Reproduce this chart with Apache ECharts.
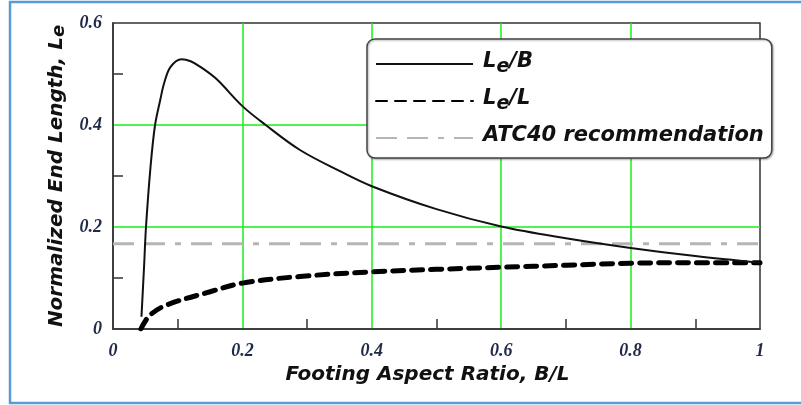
<!DOCTYPE html>
<html>
<head>
<meta charset="utf-8">
<script src="https://cdn.jsdelivr.net/npm/echarts@6/dist/echarts.min.js"></script>
<style>
  html, body { margin: 0; padding: 0; background: #fff; }
  #main { width: 801px; height: 405px; }
</style>
</head>
<body>
<div id="main"></div>
<script>
// Le/B curve (solid)
var leB_x = [0.044, 0.048, 0.051, 0.058, 0.065, 0.073, 0.079, 0.089, 0.106, 0.12, 0.135, 0.16, 0.2, 0.236, 0.289, 0.35, 0.4, 0.5, 0.6, 0.7, 0.8, 0.9, 1.0];
var leB_y = [0.024, 0.122, 0.2, 0.318, 0.4, 0.449, 0.482, 0.514, 0.529, 0.525, 0.514, 0.49, 0.437, 0.4, 0.351, 0.31, 0.28, 0.235, 0.201, 0.178, 0.159, 0.143, 0.13];

// Le/L curve (thick dashed)
var leL_x = [0.043, 0.057, 0.083, 0.15, 0.2, 0.289, 0.4, 0.5, 0.6, 0.7, 0.8, 0.9, 1.0];
var leL_y = [0.0, 0.027, 0.047, 0.073, 0.09, 0.103, 0.112, 0.117, 0.121, 0.125, 0.129, 0.13, 0.13];

// ATC40 recommendation (horizontal)
var atc_x = [0, 1];
var atc_y = [0.167, 0.167];

var xTicks = ['0', '0.2', '0.4', '0.6', '0.8', '1'];
var yTicks = ['0', '0.2', '0.4', '0.6'];

function pairs(xs, ys) {
  var out = [];
  for (var i = 0; i < xs.length; i++) out.push([xs[i], ys[i]]);
  return out;
}

var nameFont = 'DejaVu Sans';
var tickFont = 'Liberation Serif';
var green = '#18ee18';

var myChart = echarts.init(document.getElementById('main'));

var option = {
  animation: false,
  backgroundColor: '#fff',
  graphic: [{
    type: 'rect',
    shape: { x: 10, y: 2, width: 800, height: 401 },
    style: { fill: 'none', stroke: '#5b9bd5', lineWidth: 2.5 },
    silent: true
  }],
  grid: {
    left: 113, top: 23, right: 41, bottom: 76,
    show: true, borderColor: '#333', borderWidth: 1.5, backgroundColor: '#fff'
  },
  legend: {
    left: 367, top: 39,
    orient: 'vertical',
    backgroundColor: '#fff',
    borderColor: '#444', borderWidth: 1.5, borderRadius: 8,
    shadowBlur: 2, shadowColor: 'rgba(0,0,0,0.3)', shadowOffsetX: 1, shadowOffsetY: 1,
    padding: [12, 8, 12, 8],
    itemWidth: 97, itemHeight: 14, itemGap: 11,
    itemStyle: { opacity: 0 },
    data: ['Le/B', 'Le/L', 'ATC40 recommendation'],
    formatter: function (name) {
      if (name === 'Le/B') return '{a|L}{s|e}{a|/B}';
      if (name === 'Le/L') return '{a|L}{s|e}{a|/L}';
      return '{a|' + name + '}';
    },
    textStyle: {
      padding: [0, 0, 0, 5],
      rich: {
        a: { fontFamily: nameFont, fontSize: 21, fontWeight: 'bold', fontStyle: 'italic', color: '#111', verticalAlign: 'top', padding: [0, 0, 5, 0] },
        s: { fontFamily: nameFont, fontSize: 19, fontWeight: 'bold', fontStyle: 'italic', color: '#111', verticalAlign: 'bottom' }
      }
    }
  },
  xAxis: {
    type: 'value', min: 0, max: 1, interval: 0.2,
    name: 'Footing Aspect Ratio, B/L',
    nameLocation: 'middle', nameGap: 32,
    nameTextStyle: { fontFamily: nameFont, fontSize: 20, fontWeight: 'bold', fontStyle: 'italic', color: '#111', padding: [0, 18, 0, 0] },
    axisLine: { lineStyle: { color: '#333', width: 1.5 } },
    axisTick: { show: false, inside: true },
    minorTick: { show: true, splitNumber: 2, length: 10, lineStyle: { color: '#333', width: 1.5 } },
    axisLabel: {
      margin: 13,
      fontFamily: tickFont, fontSize: 18, fontWeight: 'bold', fontStyle: 'italic', color: '#1f2a4a',
      formatter: function (v) { return xTicks[Math.round(v / 0.2)]; }
    },
    splitLine: { show: true, showMinLine: false, showMaxLine: false, lineStyle: { color: green, width: 1.5 } }
  },
  yAxis: {
    type: 'value', min: 0, max: 0.6, interval: 0.2,
    name: 'Normalized End Length, L{s|e}',
    nameLocation: 'middle', nameGap: 56,
    nameTextStyle: {
      fontFamily: nameFont, fontSize: 20, fontWeight: 'bold', fontStyle: 'italic', color: '#111',
      verticalAlign: 'top', padding: [0, 0, 5, 0],
      rich: {
        s: { fontFamily: nameFont, fontSize: 18, fontWeight: 'bold', fontStyle: 'italic', color: '#111', verticalAlign: 'bottom', padding: [6, 0, 0, 0] }
      }
    },
    axisLine: { show: true, lineStyle: { color: '#333', width: 1.5 } },
    axisTick: { show: false, inside: true },
    minorTick: { show: true, splitNumber: 2, length: 10, lineStyle: { color: '#333', width: 1.5 } },
    axisLabel: {
      margin: 11,
      fontFamily: tickFont, fontSize: 18, fontWeight: 'bold', fontStyle: 'italic', color: '#1f2a4a',
      formatter: function (v) { return yTicks[Math.round(v / 0.2)]; }
    },
    splitLine: { show: true, showMinLine: false, showMaxLine: false, lineStyle: { color: green, width: 1.5 } }
  },
  series: [
    {
      name: 'Le/B', type: 'line', data: pairs(leB_x, leB_y),
      symbol: 'none', smooth: 0.35,
      lineStyle: { color: '#111', width: 2 }, itemStyle: { color: '#111' }, z: 4
    },
    {
      name: 'Le/L', type: 'line', data: pairs(leL_x, leL_y),
      symbol: 'none', smooth: 0.35,
      lineStyle: { color: '#000', width: 5, type: [11, 8], cap: 'round' }, itemStyle: { color: '#000' }, z: 3
    },
    {
      name: 'ATC40 recommendation', type: 'line', data: pairs(atc_x, atc_y),
      symbol: 'none',
      lineStyle: { color: '#b5b5b5', width: 3, type: [21, 10, 21, 10, 6, 10] }, itemStyle: { color: '#b5b5b5' }, z: 2
    }
  ]
};

myChart.setOption(option);
</script>
</body>
</html>
